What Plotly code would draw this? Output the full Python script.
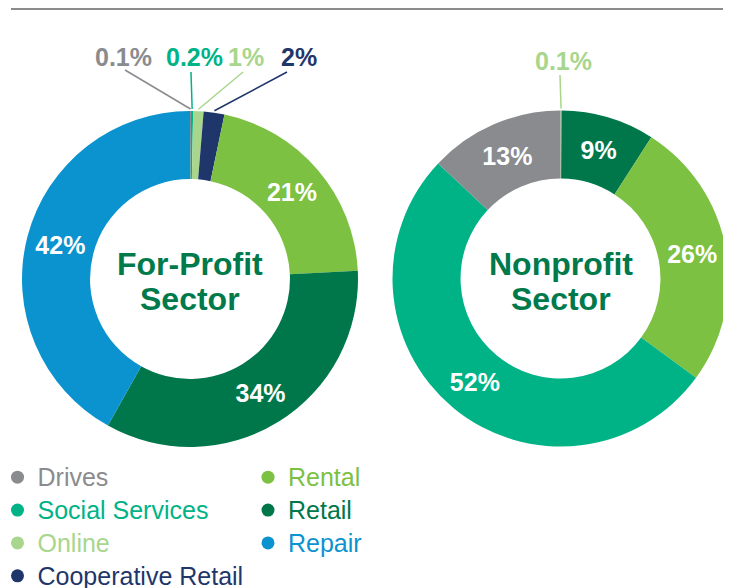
import math
import plotly.graph_objects as go

W, H = 731, 588
OFF = 8  # the page shows the figure shifted by the body margin
FONT = "Liberation Sans, Arial, Helvetica, sans-serif"

# ---------------- data ----------------
categories = ["Drives", "Social Services", "Online", "Cooperative Retail", "Rental", "Retail", "Repair"]
category_colors = ["#8a8b8f", "#00b386", "#a8d68c", "#1f366b", "#7cc142", "#00774a", "#0b93d0"]

forprofit_labels = ["Drives", "Social Services", "Online", "Cooperative Retail", "Rental", "Retail", "Repair"]
forprofit_values = [0.1, 0.2, 1, 2, 21, 34, 42]

nonprofit_labels = ["Online", "Retail", "Rental", "Social Services", "Drives"]
nonprofit_values = [0.1, 9, 26, 52, 13]

legend_col1 = ["Drives", "Social Services", "Online", "Cooperative Retail"]
legend_col2 = ["Rental", "Retail", "Repair"]

color_of = dict(zip(categories, category_colors))

# ---------------- layout geometry (page pixels) ----------------
R = 168
HOLE = 0.595
SMALL = 5  # slices below this value get an outside label
charts = [
    dict(labels=forprofit_labels, values=forprofit_values, cx=190, cy=279,
         title=["For-Profit", "Sector"],
         out_text=[(123, 57), (194.5, 57), (245.5, 57), (299, 57)],
         out_line=[(125, 70), (191, 72), (243, 72), (287, 72)]),
    dict(labels=nonprofit_labels, values=nonprofit_values, cx=560.5, cy=278.5,
         title=["Nonprofit", "Sector"],
         out_text=[(563, 61)],
         out_line=[(560, 75)]),
]


def px(x):
    return (x - OFF) / W


def py(y):
    return 1 - (y - OFF) / H


def fmt(v):
    return f"{v:g}%"


fig = go.Figure()
shapes = []
annotations = []

for ch in charts:
    labels, values = ch["labels"], ch["values"]
    cx, cy = ch["cx"], ch["cy"]
    fig.add_trace(go.Pie(
        labels=labels,
        values=values,
        text=[fmt(v) for v in values],
        texttemplate="%{text}",
        textposition=["inside" if v >= SMALL else "none" for v in values],
        insidetextorientation="horizontal",
        textfont=dict(family=FONT, size=25, color="white", weight="bold"),
        marker=dict(colors=[color_of[l] for l in labels], line=dict(width=0)),
        hole=HOLE,
        sort=False,
        direction="clockwise",
        rotation=0,
        showlegend=False,
        domain=dict(x=[px(cx - R), px(cx + R)], y=[py(cy + R), py(cy - R)]),
        hoverinfo="label+text",
    ))
    # outside labels with leader lines for tiny slices
    total = sum(values)
    cum = 0
    k = 0
    for lab, v in zip(labels, values):
        mid = (cum + v / 2) / total
        cum += v
        if v >= SMALL:
            continue
        th = 2 * math.pi * mid
        rt = R + 2
        tx, ty = cx + rt * math.sin(th), cy - rt * math.cos(th)
        lx, ly = ch["out_line"][k]
        ax_, ay_ = ch["out_text"][k]
        shapes.append(dict(type="line", xref="paper", yref="paper",
                           x0=px(tx), y0=py(ty), x1=px(lx), y1=py(ly),
                           line=dict(color=color_of[lab], width=1.5)))
        annotations.append(dict(xref="paper", yref="paper", x=px(ax_), y=py(ay_),
                                text=fmt(v), showarrow=False, xanchor="center", yanchor="middle",
                                font=dict(family=FONT, size=25, color=color_of[lab], weight="bold")))
        k += 1
    # centre titles
    for i, line in enumerate(ch["title"]):
        annotations.append(dict(xref="paper", yref="paper", x=px(cx), y=py(cy - 15 + 35 * i),
                                text=line, showarrow=False, xanchor="center", yanchor="middle",
                                font=dict(family=FONT, size=32, color="#007a4b", weight="bold")))

# top rule
shapes.append(dict(type="line", xref="paper", yref="paper", x0=px(11), x1=px(727),
                   y0=py(9), y1=py(9), line=dict(color="#8c8c8c", width=2)))

# legend entries (two columns)
for leg, names in (("legend", legend_col1), ("legend2", legend_col2)):
    for name in names:
        fig.add_trace(go.Scatter(
            x=[None], y=[None], mode="markers",
            marker=dict(color=color_of[name], size=13, symbol="circle"),
            name=f'<span style="color:{color_of[name]};font-size:25px">{name}</span>',
            legend=leg, showlegend=True, hoverinfo="skip",
        ))

leg_common = dict(xanchor="left", yanchor="top", bgcolor="rgba(0,0,0,0)",
                  font=dict(family=FONT, size=23, color="#888888"),
                  itemclick=False, itemdoubleclick=False, tracegroupgap=0)

fig.update_layout(
    width=W, height=H,
    margin=dict(l=0, r=0, t=0, b=0, autoexpand=False),
    paper_bgcolor="white", plot_bgcolor="white",
    xaxis=dict(visible=False), yaxis=dict(visible=False),
    shapes=shapes, annotations=annotations,
    legend=dict(x=px(-2.5), y=py(455.7), **leg_common),
    legend2=dict(x=px(248), y=py(455.7), **leg_common),
)

fig.write_html("out.html")
